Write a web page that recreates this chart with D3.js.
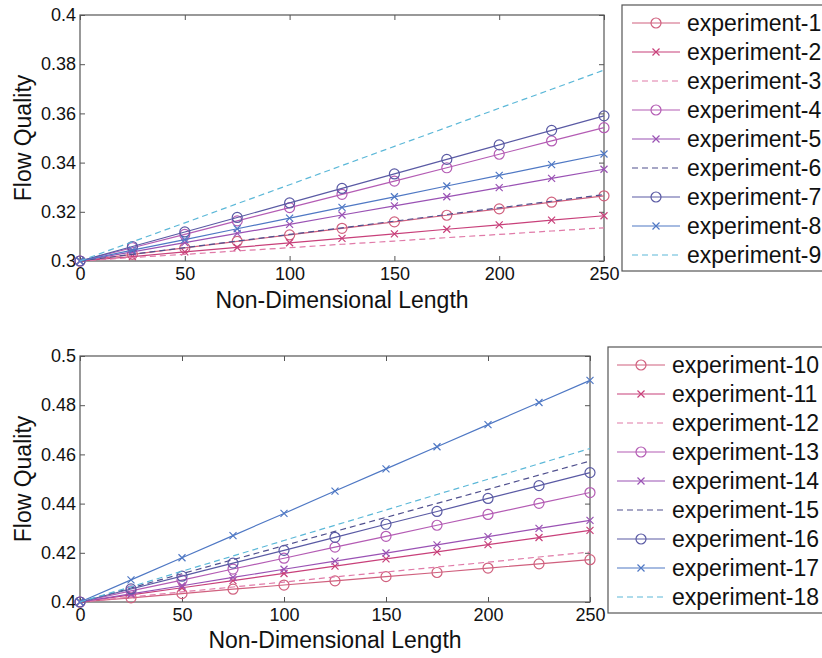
<!DOCTYPE html>
<html><head><meta charset="utf-8">
<script src="https://cdn.jsdelivr.net/npm/d3@7"></script>
<style>
body{margin:0;background:#fff;}
text{font-family:"Liberation Sans",Arial,sans-serif;fill:#111;}
</style></head>
<body><svg id="c" width="822" height="658"></svg>
<script>
// ---- data ----
const xValues = [0,25,50,75,100,125,150,175,200,225,250];
const xTicks = [0,50,100,150,200,250];
const topYTicks = [0.3,0.32,0.34,0.36,0.38,0.4];
const bottomYTicks = [0.4,0.42,0.44,0.46,0.48,0.5];
const xLabel = "Non-Dimensional Length";
const yLabel = "Flow Quality";

const topNames = ["experiment-1","experiment-2","experiment-3","experiment-4","experiment-5","experiment-6","experiment-7","experiment-8","experiment-9"];
const exp1 = [0.3,0.3027,0.3053,0.308,0.3106,0.3133,0.3159,0.3186,0.3212,0.3239,0.3265];
const exp2 = [0.3,0.3018,0.3037,0.3055,0.3074,0.3092,0.311,0.3129,0.3147,0.3166,0.3184];
const exp3 = [0.3,0.3014,0.3027,0.3041,0.3054,0.3068,0.3081,0.3095,0.3108,0.3122,0.3135];
const exp4 = [0.3,0.3054,0.3108,0.3163,0.3217,0.3271,0.3325,0.3379,0.3434,0.3488,0.3542];
const exp5 = [0.3,0.3037,0.3075,0.3112,0.3149,0.3187,0.3224,0.3261,0.3298,0.3336,0.3373];
const exp6 = [0.3,0.3027,0.3054,0.3081,0.3108,0.3135,0.3162,0.3189,0.3216,0.3243,0.327];
const exp7 = [0.3,0.3059,0.3118,0.3177,0.3236,0.3295,0.3354,0.3413,0.3472,0.3531,0.359];
const exp8 = [0.3,0.3044,0.3087,0.3131,0.3174,0.3218,0.3261,0.3305,0.3348,0.3392,0.3435];
const exp9 = [0.3,0.3078,0.3155,0.3233,0.331,0.3388,0.3466,0.3543,0.3621,0.3698,0.3776];

const bottomNames = ["experiment-10","experiment-11","experiment-12","experiment-13","experiment-14","experiment-15","experiment-16","experiment-17","experiment-18"];
const exp10 = [0.4,0.4017,0.4034,0.4052,0.4069,0.4086,0.4103,0.412,0.4138,0.4155,0.4172];
const exp11 = [0.4,0.4029,0.4058,0.4087,0.4116,0.4146,0.4175,0.4204,0.4233,0.4262,0.4291];
const exp12 = [0.4,0.402,0.4041,0.4061,0.4081,0.4102,0.4122,0.4142,0.4162,0.4183,0.4203];
const exp13 = [0.4,0.4045,0.4089,0.4134,0.4178,0.4223,0.4267,0.4312,0.4356,0.4401,0.4445];
const exp14 = [0.4,0.4033,0.4066,0.41,0.4133,0.4166,0.4199,0.4232,0.4266,0.4299,0.4332];
const exp15 = [0.4,0.4057,0.4115,0.4172,0.4229,0.4287,0.4344,0.4401,0.4458,0.4516,0.4573];
const exp16 = [0.4,0.4053,0.4105,0.4158,0.421,0.4263,0.4316,0.4368,0.4421,0.4473,0.4526];
const exp17 = [0.4,0.409,0.418,0.427,0.436,0.4451,0.4541,0.4631,0.4721,0.4811,0.4901];
const exp18 = [0.4,0.4062,0.4125,0.4187,0.425,0.4312,0.4374,0.4437,0.4499,0.4562,0.4624];

// styles (marker / dash / color) for the 9 series in each panel
const seriesColors = ["#d0607e","#c8407a","#e07aa8","#b45cb4","#9a52b4","#50508e","#5a5aa4","#4f78c4","#5cb8d8"];
const seriesMarkers = ["o","x",null,"o","x",null,"o","x",null];
const seriesDashed = [false,false,true,false,false,true,false,false,true];

const panels = [
  {names: topNames, values: [exp1,exp2,exp3,exp4,exp5,exp6,exp7,exp8,exp9], yTicks: topYTicks,
   x0:80, x1:604, y0:15, y1:261, xLabY:300, leg:{x:622, y:5, h:266, lineX0:632, lineX1:680, textX:687, firstY:23}},
  {names: bottomNames, values: [exp10,exp11,exp12,exp13,exp14,exp15,exp16,exp17,exp18], yTicks: bottomYTicks,
   x0:80, x1:590, y0:356, y1:602, xLabY:640, leg:{x:608, y:347, h:266, lineX0:617, lineX1:665, textX:672, firstY:365}}
];

const svg = d3.select("#c");

function drawMarker(g, type, x, y, color){
  if(type==="o"){
    g.append("circle").attr("cx",x).attr("cy",y).attr("r",5)
      .attr("fill","none").attr("stroke",color).attr("stroke-width",1.2);
  } else if(type==="x"){
    const s=3.5;
    g.append("path").attr("d",`M${x-s},${y-s}L${x+s},${y+s}M${x-s},${y+s}L${x+s},${y-s}`)
      .attr("stroke",color).attr("stroke-width",1.2).attr("fill","none");
  }
}

panels.forEach(p=>{
  const x = d3.scaleLinear().domain([0,250]).range([p.x0,p.x1]);
  const y = d3.scaleLinear().domain([p.yTicks[0],p.yTicks[p.yTicks.length-1]]).range([p.y1,p.y0]);
  const g = svg.append("g");
  const tl = 5;
  // frame
  g.append("rect").attr("x",p.x0).attr("y",p.y0).attr("width",p.x1-p.x0).attr("height",p.y1-p.y0)
    .attr("fill","none").attr("stroke","#555").attr("stroke-width",1.2);
  // axes
  const xb = d3.axisBottom(x).tickValues(xTicks).tickSize(-tl).tickFormat(d3.format("d"));
  const xt = d3.axisTop(x).tickValues(xTicks).tickSize(-tl).tickFormat("");
  const yl = d3.axisLeft(y).tickValues(p.yTicks).tickSize(-tl).tickFormat(d=>String(+d.toFixed(2)));
  const yr = d3.axisRight(y).tickValues(p.yTicks).tickSize(-tl).tickFormat("");
  const styleAxis = a=>{a.select(".domain").remove(); a.selectAll("line").attr("stroke","#555");
    a.selectAll("text").style("font-family","Liberation Sans, Arial, sans-serif").style("font-size","18px").attr("fill","#111");};
  g.append("g").attr("transform",`translate(0,${p.y1})`).call(xb).call(styleAxis).selectAll("text").attr("dy","0.95em").attr("y",2);
  g.append("g").attr("transform",`translate(0,${p.y0})`).call(xt).call(styleAxis);
  g.append("g").attr("transform",`translate(${p.x0},0)`).call(yl).call(styleAxis).selectAll("text").attr("x",-4);
  g.append("g").attr("transform",`translate(${p.x1},0)`).call(yr).call(styleAxis);
  // labels
  g.append("text").attr("x",(p.x0+p.x1)/2).attr("y",p.xLabY).attr("dy","0.35em").attr("text-anchor","middle")
    .style("font-size","23px").text(xLabel);
  g.append("text").attr("transform",`translate(23,${(p.y0+p.y1)/2}) rotate(-90)`).attr("dy","0.35em")
    .attr("text-anchor","middle").style("font-size","23px").text(yLabel);
  // series
  const line = d3.line().x((d,i)=>x(xValues[i])).y(d=>y(d));
  p.values.forEach((vals,k)=>{
    const c = seriesColors[k];
    g.append("path").attr("d",line(vals)).attr("fill","none").attr("stroke",c)
      .attr("stroke-width",1.2).attr("stroke-dasharray",seriesDashed[k]?"6,4":null);
    if(seriesMarkers[k]) vals.forEach((v,i)=>drawMarker(g,seriesMarkers[k],x(xValues[i]),y(v),c));
  });
  // legend
  const L = p.leg;
  g.append("rect").attr("x",L.x).attr("y",L.y).attr("width",822-L.x+5).attr("height",L.h)
    .attr("fill","#fff").attr("stroke","#555").attr("stroke-width",1.2);
  p.names.forEach((n,k)=>{
    const ly = L.firstY + k*29;
    const c = seriesColors[k];
    g.append("line").attr("x1",L.lineX0).attr("x2",L.lineX1).attr("y1",ly).attr("y2",ly)
      .attr("stroke",c).attr("stroke-width",1.2).attr("stroke-dasharray",seriesDashed[k]?"6,4":null);
    if(seriesMarkers[k]) drawMarker(g,seriesMarkers[k],(L.lineX0+L.lineX1)/2,ly,c);
    g.append("text").attr("x",L.textX).attr("y",ly).attr("dy","0.35em").style("font-size","23px").text(n);
  });
});
</script></body></html>
